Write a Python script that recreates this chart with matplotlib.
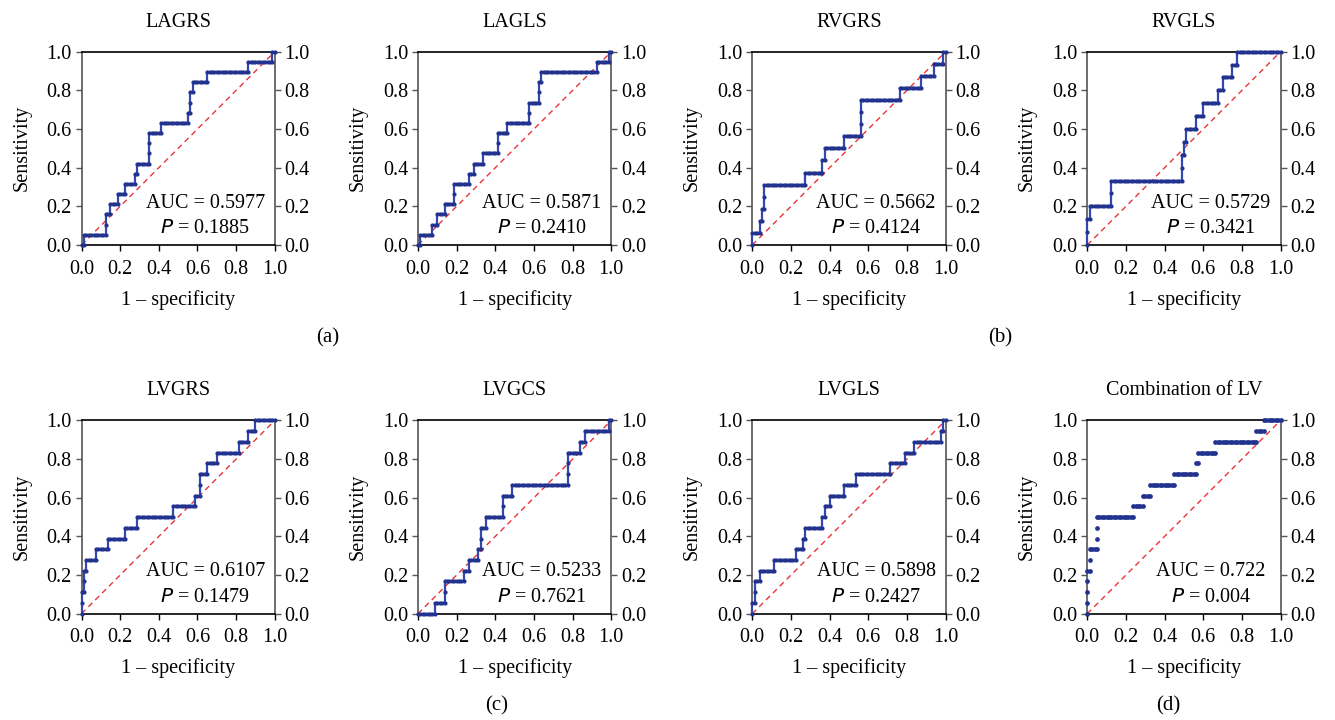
import matplotlib
matplotlib.use('Agg')
from matplotlib import pyplot as plt
import numpy as np

plt.rcParams['font.family'] = ['Liberation Serif', 'DejaVu Serif']

# Panel titles and statistics.
titles = ['LAGRS', 'LAGLS', 'RVGRS', 'RVGLS',
          'LVGRS', 'LVGCS', 'LVGLS', 'Combination of LV']
auc_values = ['0.5977', '0.5871', '0.5662', '0.5729',
              '0.6107', '0.5233', '0.5898', '0.722']
p_values = ['0.1885', '0.2410', '0.4124', '0.3421',
            '0.1479', '0.7621', '0.2427', '0.004']
panel_letters = ['(a)', '(b)', '(c)', '(d)']
ticks = [0.0, 0.2, 0.4, 0.6, 0.8, 1.0]
tick_labels = ['0.0', '0.2', '0.4', '0.6', '0.8', '1.0']

# Cases ranked by score, as run lengths: +k = k positive cases, -k = k negative cases.
lagrs_runs = [-1, 1, -9, 2, -2, 1, -3, 1, -3, 1, -4, 1, -1, 1, -5, 3, -5, 1,
              -11, 1, -1, 2, -1, 1, -6, 1, -17, 1, -10, 1, -1]
lagls_runs = [-1, 1, -5, 1, -2, 1, -3, 1, -4, 2, -6, 1, -2, 1, -4, 1, -6, 2,
              -4, 1, -9, 2, -4, 2, -1, 1, -23, 1, -5, 1, -1]
rvgrs_runs = [1, -3, 1, -1, 1, -1, 2, -17, 1, -7, 1, -1, 1, -8, 1, -7, 3, -16,
              1, -9, 1, -5, 1, -4, 1, -1]
rvgls_runs = [2, -1, 1, -9, 2, -29, 2, -1, 1, -1, 1, -4, 1, -3, 1, -6, 1, -2,
              1, -4, 1, -2, 1, -18]
lvgrs_runs = [2, -1, 2, -1, 1, -4, 1, -5, 1, -7, 1, -5, 1, -15, 1, -9, 1, -2,
              2, -3, 1, -4, 1, -9, 1, -4, 1, -3, 1, -8]
lvgcs_runs = [-7, 1, -4, 2, -8, 1, -2, 1, -4, 1, -1, 2, -2, 1, -7, 2, -4, 1,
              -23, 3, -5, 1, -2, 1, -10, 1, -1]
lvgls_runs = [1, -1, 2, -2, 1, -6, 1, -9, 1, -3, 1, -1, 1, -7, 1, -1, 1, -2,
              1, -6, 1, -5, 1, -14, 1, -6, 1, -4, 1, -11, 1, -1, 1, -1]
combo_runs = [4, -1, 2, -3, 3, -15, 1, -4, 1, -3, 1, -10, 1, -9, 1, -1, 1, -7,
              1, -17, 1, -3, 1, -7]

all_runs = [lagrs_runs, lagls_runs, rvgrs_runs, rvgls_runs,
            lvgrs_runs, lvgcs_runs, lvgls_runs, combo_runs]

line_color = '#3447ad'
dot_color = '#22328f'
ref_color = '#e8333a'
fs = 14.5


# Turn ranked run lengths into ROC points (one point per case).
def roc_points(runs):
    labels = []
    for r in runs:
        if r > 0:
            labels += [1] * r
        else:
            labels += [0] * (-r)
    labels = np.array(labels)
    tpr = np.concatenate([[0.0], np.cumsum(labels) / labels.sum()])
    fpr = np.concatenate([[0.0], np.cumsum(1 - labels) / (1 - labels).sum()])
    return fpr, tpr


fig = plt.figure(figsize=(13.35, 7.2), dpi=100)

W, H = 1335.0, 720.0
col_left = [81.5, 418.0, 752.3, 1087.3]
row_bottom = [245.0, 613.7]
size = 193.3

for i, runs in enumerate(all_runs):
    row, col = divmod(i, 4)
    ax = fig.add_axes([col_left[col] / W, 1 - row_bottom[row] / H, size / W, size / H])
    fpr, tpr = roc_points(runs)

    ax.plot([0, 1], [0, 1], color=ref_color, linewidth=1.0, dashes=(4, 3), zorder=2)
    if i < 7:
        ax.plot(fpr, tpr, color=line_color, linewidth=1.6, marker='o', markersize=2.0,
                markerfacecolor=dot_color, markeredgecolor=dot_color, clip_on=False, zorder=3)
    else:
        ax.plot(fpr, tpr, linestyle='none', marker='o', markersize=2.4,
                markerfacecolor=dot_color, markeredgecolor=dot_color, clip_on=False, zorder=3)

    ax.set_xlim(0, 1)
    ax.set_ylim(0, 1)
    ax.set_xticks(ticks)
    ax.set_xticklabels(tick_labels)
    ax.set_yticks(ticks)
    ax.set_yticklabels(tick_labels)
    ax.tick_params(axis='both', direction='out', length=4.5, width=1.0, labelsize=fs)
    ax.tick_params(axis='x', pad=6)
    ax.tick_params(axis='y', pad=2.5, right=True, labelright=True, color='#555555')
    for side in ['left', 'right']:
        ax.spines[side].set_color('#555555')
        ax.spines[side].set_linewidth(1.2)
    for side in ['top', 'bottom']:
        ax.spines[side].set_color('black')
        ax.spines[side].set_linewidth(1.2)

    ax.set_title(titles[i], fontsize=fs, pad=18)
    ax.set_xlabel('1 \u2013 specificity', fontsize=fs, labelpad=8)
    ax.set_ylabel('Sensitivity', fontsize=fs, labelpad=11)

    ax.text(0.64, 0.217, 'AUC = ' + auc_values[i], fontsize=fs,
            ha='center', va='center', transform=ax.transAxes)
    ax.text(0.64, 0.083, '$\\mathit{P}$ = ' + p_values[i], fontsize=fs,
            ha='center', va='center', transform=ax.transAxes)

# Panel letters.
letter_pos = [(328, 338), (1000, 338), (497, 706), (1168, 706)]
for letter, (px, py) in zip(panel_letters, letter_pos):
    fig.text(px / W, 1 - py / H, letter, fontsize=fs + 0.5, ha='center', va='center')

plt.savefig('out.png', dpi=100)
